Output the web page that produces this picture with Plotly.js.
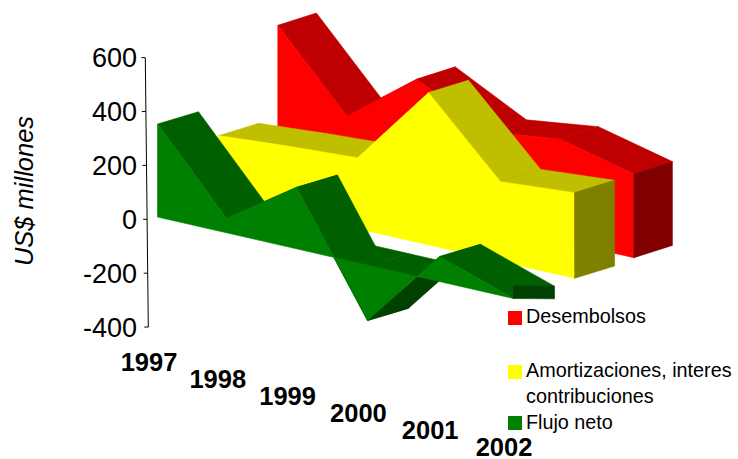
<!DOCTYPE html>
<html><head><meta charset="utf-8">
<script src="https://cdn.plot.ly/plotly-3.0.1.min.js"></script>
<style>html,body{margin:0;padding:0;background:#fff;overflow:hidden}</style>
</head><body><div id="chart" style="width:738px;height:459px"></div>
<script>
// ---- data ----
const years = ['1997','1998','1999','2000','2001','2002'];
const desembolsos = [560, 284, 481, 345, 380, 311];
const amortizaciones = [227, 249, 266, 568, 298, 318];
const flujoNeto = [345, 56, 231, -203, 95, 0];
const tickVals = [600, 400, 200, 0, -200, -400];
const tickText = ['600', '400', '200', '0', '-200', '-400'];

// ---- oblique projection constants (pixels on the page) ----
const W = 738, H = 459, L = 138, B = 77;
const yearPx = [0, 69, 139, 210, 282, 356];
const pxPerValue = 0.2694, zeroPx = 219.3, slopePx = 16.3;
const depthY = 12.3;
const x0 = 157.5, pxPerUnitX = 71.2;
const xRange = [(L - x0) / pxPerUnitX, (W - x0) / pxPerUnitX];
const yRange = [(zeroPx - H) / pxPerValue, zeroPx / pxPerValue];
const axisRange = [(zeroPx - (H - B)) / pxPerValue, zeroPx / pxPerValue];
const xOf = px => (px - x0) / pxPerUnitX;
const yOf = py => (zeroPx - py) / pxPerValue;
function yearOffset(i) {
  const k = Math.min(Math.floor(i), yearPx.length - 2), t = i - k;
  return yearPx[k] + t * (yearPx[k + 1] - yearPx[k]);
}
function proj(layer, i, d, v) {
  return [
    xOf(layer.x + yearOffset(i) + d * layer.depth),
    v + (zeroPx - layer.y - i * slopePx + d * depthY) / pxPerValue
  ];
}
const traces = [];
function face(layer, pts, color) {
  const p = pts.map(q => proj(layer, q[0], q[1], q[2]));
  p.push(p[0]);
  traces.push({
    type: 'scatter', mode: 'lines', x: p.map(q => q[0]), y: p.map(q => q[1]),
    fill: 'toself', fillcolor: color, line: {color: color, width: 0.6},
    hoverinfo: 'skip', showlegend: false
  });
}
function area3d(values, layer, c) {
  const segs = [];
  for (let i = 0; i < values.length - 1; i++) {
    const a = values[i], b = values[i + 1];
    if (a * b < 0) {
      const t = i + a / (a - b);
      segs.push([i, a, t, 0], [t, 0, i + 1, b]);
    } else segs.push([i, a, i + 1, b]);
  }
  const top = s => [[s[0], 0, s[1]], [s[0], 1, s[1]], [s[2], 1, s[3]], [s[2], 0, s[3]]];
  const isLow = s => s[1] < 0 || s[3] < 0;
  segs.filter(isLow).forEach(s => face(layer, top(s), c.side));
  segs.filter(isLow).forEach(s => face(layer, [[s[0], 0, 0], [s[0], 1, 0], [s[2], 1, 0], [s[2], 0, 0]], c.top));
  segs.filter(s => !isLow(s)).forEach(s => face(layer, top(s), c.top));
  const n = values.length - 1;
  const front = [[0, 0, 0]];
  values.forEach((v, i) => front.push([i, 0, v]));
  front.push([n, 0, 0]);
  face(layer, front, c.main);
  const lift = c.lift || 0;
  if (lift) face(layer, [[n, 0, 0], [n, 0, lift], [n, 1, 0], [n, 1, -lift]], c.side);
  else face(layer, [[n, 0, 0], [n, 0, values[n]], [n, 1, values[n]], [n, 1, 0]], c.side);
}
area3d(desembolsos, {x: 277.8, y: 176.2, depth: 38.6}, {main: '#ff0000', top: '#bf0000', side: '#800000'});
area3d(amortizaciones, {x: 218.6, y: 196.8, depth: 40}, {main: '#ffff00', top: '#bfbf00', side: '#808000'});
area3d(flujoNeto, {x: 157.5, y: 217, depth: 41}, {main: '#008000', top: '#006000', side: '#004000', lift: 47});

// tilted value axis, as in the picture; it carries the axis labels and title (yaxis2)
const axisX = v => 145.3 + (600 - v) * 0.003;
traces.push({
  type: 'scatter', mode: 'lines', yaxis: 'y2', cliponaxis: false,
  x: [xOf(axisX(600)), xOf(axisX(-400))], y: [600, -400],
  line: {color: '#000', width: 1}, hoverinfo: 'skip', showlegend: false
});
tickVals.forEach(v => traces.push({
  type: 'scatter', mode: 'lines', yaxis: 'y2', cliponaxis: false,
  x: [xOf(axisX(v) - 4), xOf(axisX(v))], y: [v, v],
  line: {color: '#000', width: 1}, hoverinfo: 'skip', showlegend: false
}));
// year labels
traces.push({
  type: 'scatter', mode: 'text', cliponaxis: false, text: years,
  x: years.map((_, i) => xOf(149 + yearOffset(i) - i * 0.2)),
  y: years.map((_, i) => yOf(364.5 + i * 17)),
  textposition: 'middle center',
  textfont: {family: 'Liberation Sans, Arial, sans-serif', size: 25.5, color: '#000', weight: 'bold'},
  hoverinfo: 'skip', showlegend: false
});

const legendItems = [
  {text: 'Desembolsos', color: '#ff0000', y: 318, ty: 316},
  {text: 'Amortizaciones, interes', color: '#ffff00', y: 372, ty: 370},
  {text: 'contribuciones', color: null, y: 0, ty: 396},
  {text: 'Flujo neto', color: '#008000', y: 423, ty: 422}
];
const annotations = legendItems.map(it => ({
  xref: 'paper', yref: 'paper', xanchor: 'left', yanchor: 'middle', showarrow: false,
  x: (524 - L) / (W - L), y: 1 - it.ty / H, text: it.text,
  font: {family: 'Liberation Sans, Arial, sans-serif', size: 19.8, color: '#000'}
}));
const shapes = legendItems.filter(it => it.color).map(it => ({
  type: 'rect', xref: 'paper', yref: 'paper', line: {width: 0}, fillcolor: it.color,
  x0: (508 - L) / (W - L), x1: (522 - L) / (W - L),
  y0: 1 - (it.y - 7) / H, y1: 1 - (it.y + 7) / H
}));

Plotly.newPlot('chart', traces, {
  width: W, height: H, paper_bgcolor: '#fff', plot_bgcolor: 'rgba(0,0,0,0)',
  margin: {l: L, r: 0, t: 0, b: 0, pad: 0},
  showlegend: false, annotations, shapes,
  xaxis: {visible: false, range: xRange, fixedrange: true},
  yaxis: {visible: false, range: yRange, fixedrange: true},
  yaxis2: {
    domain: [B / H, 1], anchor: 'x',
    range: axisRange, tickmode: 'array', tickvals: tickVals, ticktext: tickText,
    showgrid: false, zeroline: false, showline: false, ticks: '', fixedrange: true,
    tickfont: {family: 'Liberation Sans, Arial, sans-serif', size: 27, color: '#000'},
    title: {text: 'US$ millones', standoff: 42,
      font: {family: 'Liberation Sans, Arial, sans-serif', size: 25.5, color: '#000', style: 'italic'}}
  }
}, {displayModeBar: false, staticPlot: true});
</script></body></html>
